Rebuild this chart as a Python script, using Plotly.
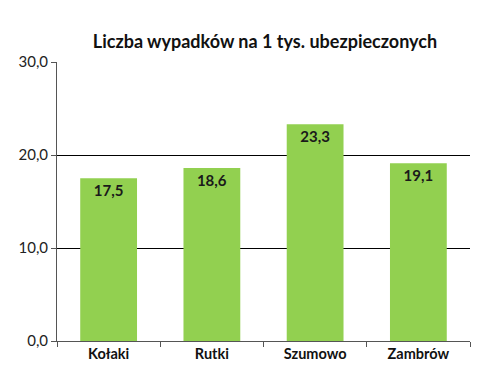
import plotly.graph_objects as go

categories = ["Kołaki", "Rutki", "Szumowo", "Zambrów"]
values = [17.5, 18.6, 23.3, 19.1]
y_ticks = [0, 10, 20, 30]
y_tick_labels = ["0,0", "10,0", "20,0", "30,0"]
grid_values = [10, 20]
title = "Liczba wypadków na 1 tys. ubezpieczonych"

FONT = "Lato, 'Open Sans', sans-serif"

labels = [f"{v:.1f}".replace(".", ",") for v in values]

# page body has an 8px default margin; figure is sized to fit the 480x371 window
W, H = 472, 363
OFF = 8

fig = go.Figure()
fig.add_trace(go.Bar(
    x=categories, y=values, text=labels,
    textposition="inside", insidetextanchor="end",
    textangle=0,
    textfont=dict(family=FONT, size=15, color="#1a1a1a", weight="bold"),
    marker=dict(color="#92D050", line=dict(width=0)),
    width=0.55, showlegend=False, hoverinfo="skip",
))
fig.add_trace(go.Scatter(x=categories, y=[None]*len(categories), yaxis="y2",
                         showlegend=False, hoverinfo="skip"))

fig.update_layout(
    width=W, height=H,
    margin=dict(l=57-OFF, r=W-(470-OFF), t=62-OFF, b=H-(341-OFF), autoexpand=False),
    paper_bgcolor="white", plot_bgcolor="rgba(0,0,0,0)",
    title=dict(text=title, x=(265-OFF)/W, xanchor="center", y=1-(42-OFF)/H, yanchor="middle",
               font=dict(family=FONT, size=18, color="#111", weight="bold")),
    xaxis=dict(showline=True, linecolor="#555", linewidth=1, automargin=False,
               ticks="outside", tickson="boundaries", ticklen=5, tickcolor="#555",
               tickfont=dict(family=FONT, size=14.5, color="#111", weight="bold"),
               showgrid=False),
    yaxis=dict(range=[0, 30], tickvals=y_ticks, ticktext=y_tick_labels,
               showline=True, linecolor="#555", linewidth=1, automargin=False,
               ticks="outside", ticklen=5, tickcolor="#555",
               tickfont=dict(family=FONT, size=15, color="#222"),
               showgrid=False, zeroline=False),
    yaxis2=dict(range=[0, 30], overlaying="y", tickvals=grid_values, automargin=False,
                showticklabels=False, showgrid=True, gridcolor="#000",
                gridwidth=1.3, zeroline=False, showline=False, layer="below traces"),
    bargap=0.45,
)

fig.write_html("out.html")
